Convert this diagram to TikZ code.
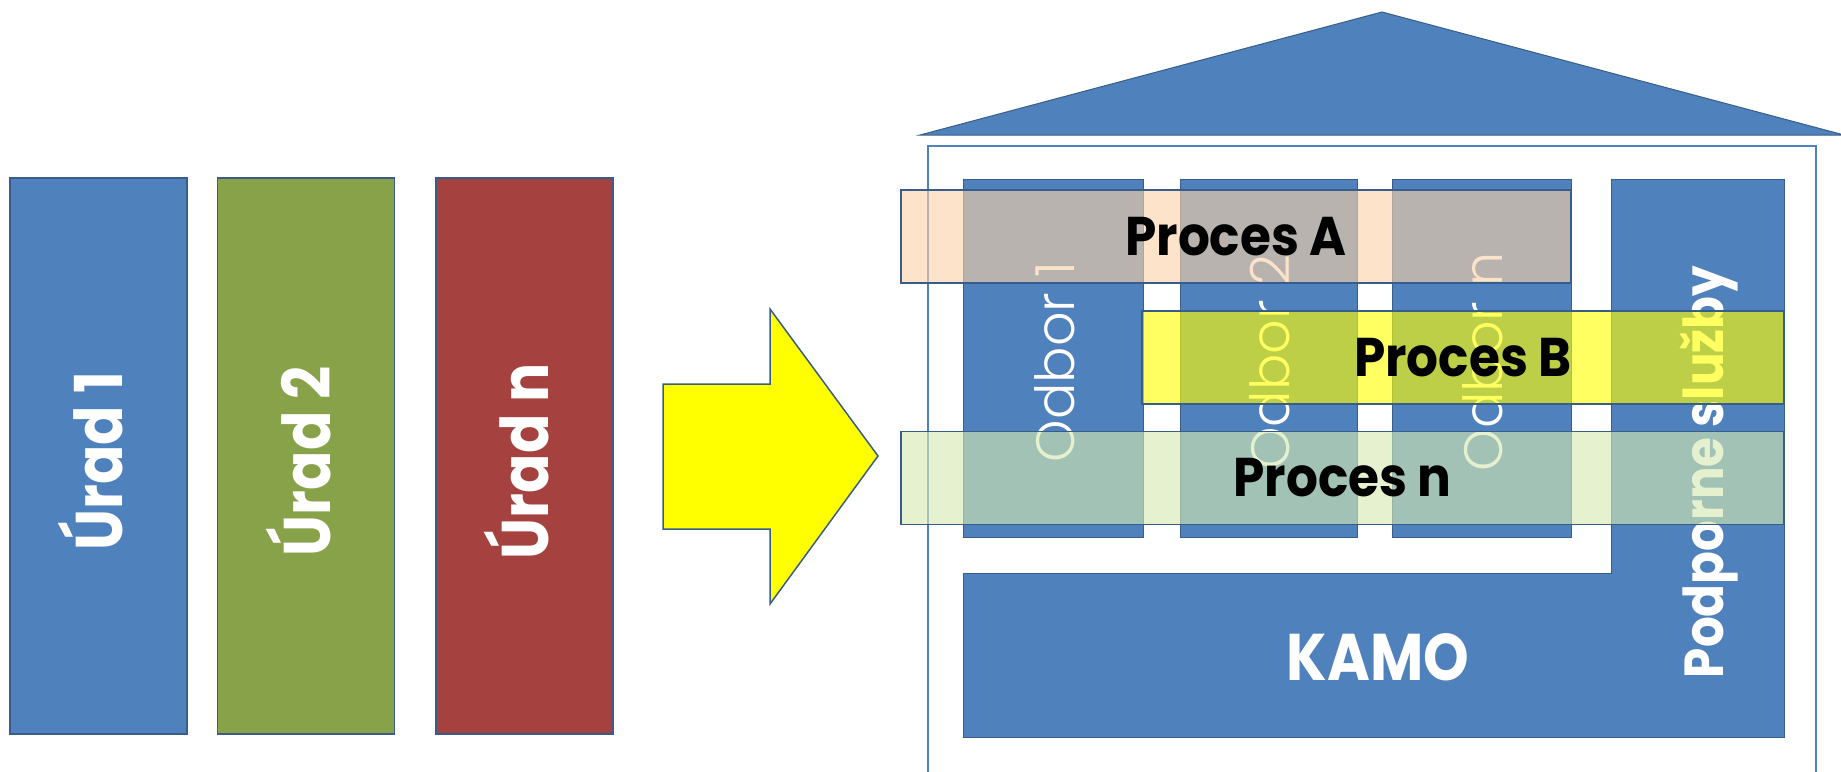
\documentclass[tikz,border=0pt]{standalone}
\usepackage{fontspec}
\setmainfont{Poppins}
\newfontfamily\thinfont{Poppins Light}
\newfontfamily\narrowfont{Poppins}[FakeStretch=0.92]
\newfontfamily\squeezefont{Poppins}[FakeStretch=0.88]

\definecolor{offblue}{HTML}{4F81BD}
\definecolor{offgreen}{HTML}{88A24A}
\definecolor{offred}{HTML}{A54240}
\definecolor{edge}{HTML}{385D8A}
\definecolor{peach}{RGB}{250,210,168}
\definecolor{lime}{RGB}{214,234,177}
\definecolor{lemon}{RGB}{255,255,0}

\tikzset{
  office/.style={rectangle,draw=edge,line width=1.5pt,minimum width=177pt,minimum height=556pt,inner sep=0pt},
  dept/.style={rectangle,fill=offblue,draw=edge,line width=1pt,minimum height=358pt,inner sep=0pt},
  proces/.style={rectangle,draw=edge,line width=1.5pt,fill opacity=0.62,text opacity=1,inner sep=0pt,
    minimum height=93pt,font=\narrowfont\bfseries\fontsize{54.5}{56}\selectfont},
  vlabel/.style={rotate=90,anchor=base,text=white,inner sep=0pt}
}

\begin{document}
\begin{tikzpicture}[x=1pt,y=-1pt]
\useasboundingbox (0,0) rectangle (1841,771);

% offices
\begin{scope}[every node/.style={office}]
    \node[fill=offblue] (U1) at (98.5,456) {};
    \node[fill=offgreen] (U2) at (306,456) {};
    \node[fill=offred] (Un) at (524.5,456) {};
\end{scope}
\begin{scope}[every node/.style={vlabel,font=\squeezefont\bfseries\fontsize{66}{67}\selectfont}]
    \node (LU1) at ([xshift=24pt,yshift=-5pt]U1.center) {Úrad 1};
    \node (LU2) at ([xshift=24pt,yshift=-5pt]U2.center) {Úrad 2};
    \node (LUn) at ([xshift=24pt,yshift=-5pt]Un.center) {Úrad n};
\end{scope}

% arrow
\draw[fill=lemon,draw=edge,line width=1.5pt] (663,384) -- (770,384) -- (770,309) -- (878,456)
    -- (770,604) -- (770,529) -- (663,529) -- cycle;

% house
\draw[fill=offblue,draw=edge,line width=1pt] (920,135) -- (1382,12) -- (1844,135) -- cycle;
\draw[draw=offblue,line width=2pt] (928,780) -- (928,146) -- (1816,146) -- (1816,780);
\draw[fill=offblue,draw=edge,line width=1pt] (963,573) -- (1611,573) -- (1611,179) -- (1784,179)
    -- (1784,737) -- (963,737) -- cycle;

\begin{scope}[every node/.style={dept}]
    \node[minimum width=180pt] (O1) at (1053,358) {};
    \node[minimum width=177pt] (O2) at (1268.5,358) {};
    \node[minimum width=179pt] (On) at (1481.5,358) {};
\end{scope}
\begin{scope}[every node/.style={vlabel,font=\thinfont\fontsize{54}{56}\selectfont}]
    \node (LO1) at ([xshift=21pt,yshift=-4pt]O1.center) {Odbor 1};
    \node (LO2) at ([xshift=21pt,yshift=-4pt]O2.center) {Odbor 2};
    \node (LOn) at ([xshift=21pt,yshift=-4pt]On.center) {Odbor n};
\end{scope}
\node[vlabel,font=\squeezefont\bfseries\fontsize{55}{56}\selectfont] (podpora) at (1723,472) {Podporne služby};
\node[anchor=base,text=white,inner sep=0pt,font=\squeezefont\bfseries\fontsize{66}{68}\selectfont] (kamo) at (1378,680) {KAMO};

% processes
\node[proces,fill=peach,minimum width=670pt] (PA) at (1236,236.5) {Proces A};
\node[proces,fill=lemon,minimum width=642pt] (PB) at (1463,357.5) {Proces B};
\node[proces,fill=lime,minimum width=883pt] (Pn) at (1342.5,478) {Proces n};
\end{tikzpicture}
\end{document}
